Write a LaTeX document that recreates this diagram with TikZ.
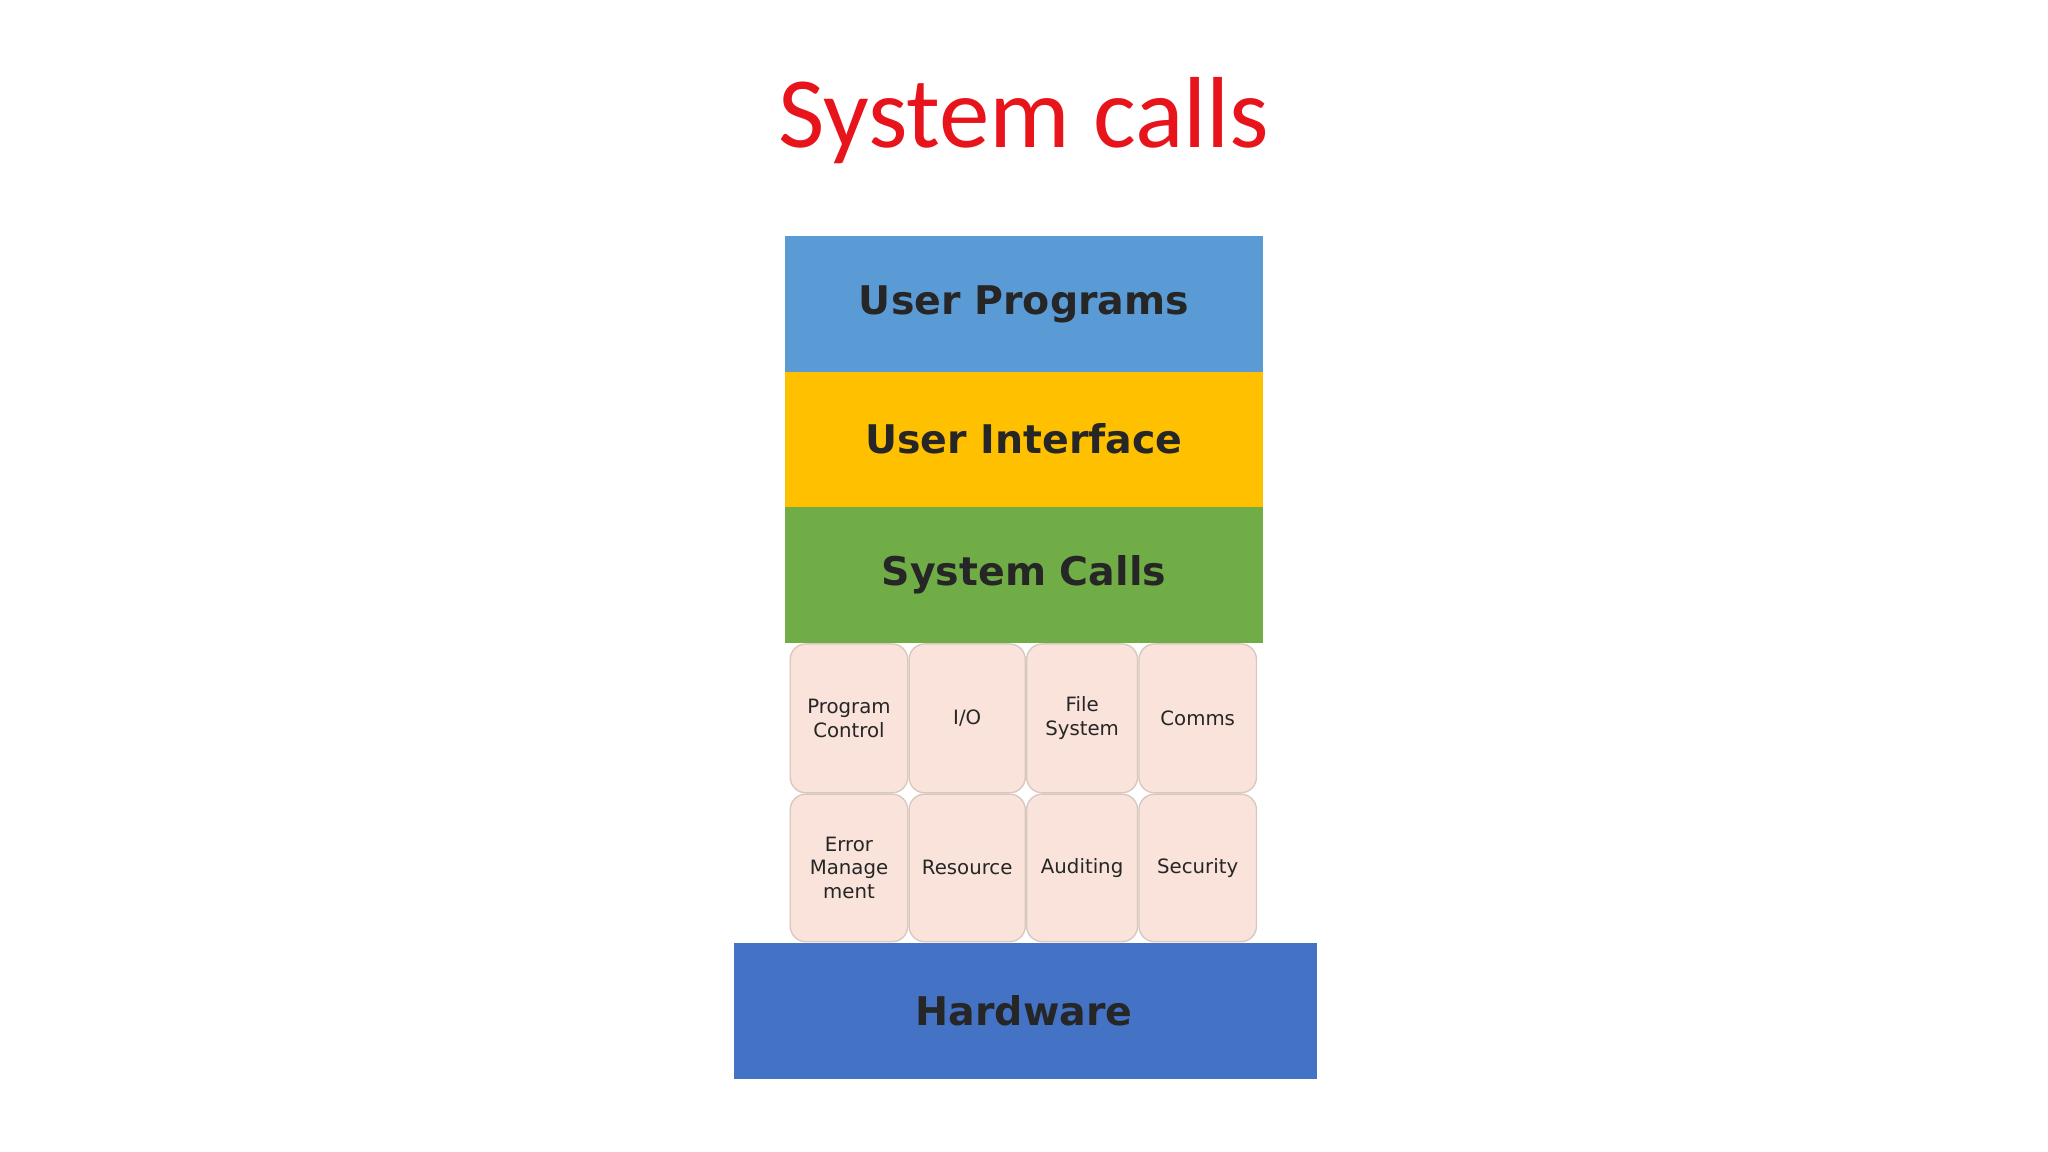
\documentclass[tikz,border=0pt]{standalone}
\usepackage{fontspec}
\setmainfont{DejaVu Sans}
\newfontfamily\titlefont{Carlito}
\definecolor{upc}{HTML}{5B9BD5}
\definecolor{uic}{HTML}{FFC000}
\definecolor{scc}{HTML}{70AD47}
\definecolor{hwc}{HTML}{4472C4}
\definecolor{cellc}{HTML}{F9E3DA}
\definecolor{celld}{HTML}{D9C8C0}
\definecolor{titc}{HTML}{E8141B}
\begin{document}
\begin{tikzpicture}[x=0.1mm,y=-0.1mm,
  layer/.style={draw=none,inner sep=0pt,font=\fontsize{8.6}{10}\selectfont\bfseries,text=black!85},
  cell/.style={draw=celld,fill=cellc,rounded corners=1.2mm,line width=0.3pt,inner sep=0pt,align=center,font=\fontsize{4.3}{5.2}\selectfont,text=black!85}]
\useasboundingbox (0,0) rectangle (1568,882);
\node[font=\titlefont\fontsize{22}{26}\selectfont,text=titc] (title) at (784,92) {System calls};
\path[fill=upc] (601,181) rectangle (967,285);
\node[layer] (up) at (784,233) {User Programs};
\path[fill=uic] (601,285) rectangle (967,388);
\node[layer] (ui) at (784,336) {User Interface};
\path[fill=scc] (601,388) rectangle (967,492);
\node[layer] (sc) at (784,440) {System Calls};
\path[fill=hwc] (562,722) rectangle (1008,826);
\node[layer] (hw) at (784,774) {Hardware};
\node[cell,minimum width=9mm,minimum height=11.4mm] (c1) at (650,550) {Program\\Control};
\node[cell,minimum width=8.9mm,minimum height=11.4mm] (c2) at (740.5,550) {I/O};
\node[cell,minimum width=8.5mm,minimum height=11.4mm] (c3) at (828.5,550) {File\\System};
\node[cell,minimum width=9mm,minimum height=11.4mm] (c4) at (917,550) {Comms};
\node[cell,minimum width=9mm,minimum height=11.3mm] (c5) at (650,664.5) {Error\\Manage\\ment};
\node[cell,minimum width=8.9mm,minimum height=11.3mm] (c6) at (740.5,664.5) {Resource};
\node[cell,minimum width=8.5mm,minimum height=11.3mm] (c7) at (828.5,664.5) {Auditing};
\node[cell,minimum width=9mm,minimum height=11.3mm] (c8) at (917,664.5) {Security};
\end{tikzpicture}
\end{document}
